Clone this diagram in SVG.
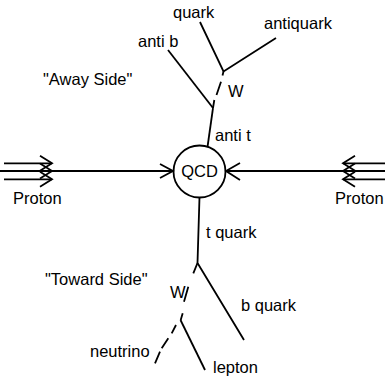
<svg xmlns="http://www.w3.org/2000/svg" width="385" height="377" viewBox="0 0 385 377">
<style>
.ln{stroke:#000;stroke-width:1.8;fill:none;stroke-linecap:butt;stroke-linejoin:miter}
.t{font-family:"Liberation Sans",Arial,Helvetica,sans-serif;font-size:16.5px;fill:#000}
</style>
<rect width="385" height="377" fill="#fff"/>
<g id="connectors">
  <!-- left proton beam -->
  <path class="ln" d="M4,163.3H52M0,171H173M4,179.3H52"/>
  <path class="ln" d="M40,155.8L52,163.3L40,170.8M40,163.5L52,171L40,178.5M40,171.8L52,179.3L40,186.8"/>
  <path class="ln" d="M160,164L173,171L160,178"/>
  <!-- right proton beam -->
  <path class="ln" d="M343,163.3H385M226,171H385M343,179.3H385"/>
  <path class="ln" d="M355,155.8L343,163.3L355,170.8M355,163.5L343,171L355,178.5M355,171.8L343,179.3L355,186.8"/>
  <path class="ln" d="M240,163L226,171L240,180"/>
  <!-- away side -->
  <path class="ln" d="M207.5,147L213,108"/>
  <path class="ln" d="M168,50L213,108"/>
  <path class="ln" d="M213,108L214.3,100M216.5,95L221,81.7M222.5,75.5L223.5,71.5"/>
  <path class="ln" d="M200,22L223.5,71.5L276,38"/>
  <!-- toward side -->
  <path class="ln" d="M199.5,197L197.5,263L244,340"/>
  <path class="ln" d="M197.5,263L193.3,273.3M188.3,286.7L184,301.7M182.7,313.3L180.7,320"/>
  <path class="ln" d="M180.5,320L205,370"/>
  <path class="ln" d="M176,325L171.7,333.3M168.3,338.3L161.7,348.3M160,351.7L155,363.3"/>
</g>
<g id="qcd">
  <circle class="ln" cx="199.5" cy="171.5" r="26"/>
  <text class="t" x="199.5" y="176.5" text-anchor="middle">QCD</text>
</g>
<g id="proton-left"><text class="t" x="13" y="204">Proton</text></g>
<g id="proton-right"><text class="t" x="335" y="204">Proton</text></g>
<g id="anti-t"><text class="t" x="215" y="141">anti t</text></g>
<g id="t-quark"><text class="t" x="206" y="238">t quark</text></g>
<g id="anti-b"><text class="t" x="138" y="47">anti b</text></g>
<g id="quark"><text class="t" x="173" y="18">quark</text></g>
<g id="antiquark"><text class="t" x="264" y="29">antiquark</text></g>
<g id="w-top"><text class="t" x="228" y="97">W</text></g>
<g id="away-side"><text class="t" x="43" y="85">"Away Side"</text></g>
<g id="toward-side"><text class="t" x="45" y="285">"Toward Side"</text></g>
<g id="w-bottom"><text class="t" x="170" y="298">W</text></g>
<g id="b-quark"><text class="t" x="241" y="311">b quark</text></g>
<g id="neutrino"><text class="t" x="90" y="357">neutrino</text></g>
<g id="lepton"><text class="t" x="213" y="373">lepton</text></g>
</svg>
